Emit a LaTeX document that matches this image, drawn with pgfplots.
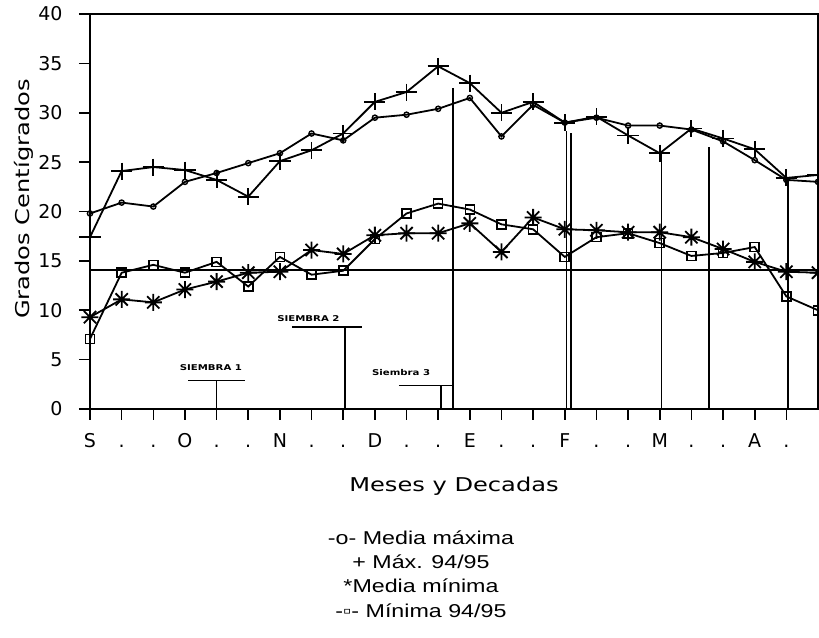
\documentclass[border=0pt]{standalone}
\usepackage{fontspec}
\setmainfont{Liberation Sans}
\newfontfamily\dotfont[FakeStretch=1.27]{DejaVu Sans}
\newfontfamily\tickfont{DejaVu Sans}
\newfontfamily\legfont[FakeStretch=1.25]{Liberation Sans}
\usepackage{pgfplots}
\pgfplotsset{compat=1.18}

\pgfdeclareplotmark{ast8}{%
  \pgfpathmoveto{\pgfqpoint{-\pgfplotmarksize}{0pt}}%
  \pgfpathlineto{\pgfqpoint{\pgfplotmarksize}{0pt}}%
  \pgfpathmoveto{\pgfqpoint{0pt}{-\pgfplotmarksize}}%
  \pgfpathlineto{\pgfqpoint{0pt}{\pgfplotmarksize}}%
  \pgfpathmoveto{\pgfqpoint{-0.72\pgfplotmarksize}{-0.72\pgfplotmarksize}}%
  \pgfpathlineto{\pgfqpoint{0.72\pgfplotmarksize}{0.72\pgfplotmarksize}}%
  \pgfpathmoveto{\pgfqpoint{-0.72\pgfplotmarksize}{0.72\pgfplotmarksize}}%
  \pgfpathlineto{\pgfqpoint{0.72\pgfplotmarksize}{-0.72\pgfplotmarksize}}%
  \pgfusepathqstroke}

\begin{document}
\begin{tikzpicture}
\useasboundingbox (-90pt,-228pt) rectangle (729pt,409pt);
\begin{axis}[
  at={(0pt,0pt)}, anchor=south west,
  scale only axis, width=728pt, height=395pt,
  xmin=0, xmax=23, ymin=0, ymax=40,
  axis line style={line width=1.6pt},
  xtick={0,...,22},
  xticklabels={S,.,.,O,.,.,N,.,.,D,.,.,E,.,.,F,.,.,M,.,.,A,.},
  ytick={0,5,...,40},
  yticklabels={0,5,10,15,20,25,30,35,40},
  tick align=outside, xtick pos=bottom, ytick pos=left,
  major tick length=11pt,
  tick style={line width=1.6pt, black},
  xticklabel style={font=\tickfont\fontsize{19}{22}\selectfont, anchor=base, yshift=-28pt},
  yticklabel style={font=\tickfont\fontsize{19}{22}\selectfont, anchor=east, xshift=-13pt},
  /pgf/number format/assume math mode=true,
  every axis plot/.append style={line width=1.8pt, black},
]
% horizontal reference line
\addplot[mark=none, line width=1.6pt] coordinates {(0,14.1) (23,14.1)};
% Siembra 1
\addplot[mark=none, line width=1.6pt] coordinates {(3.1,2.9) (4.9,2.9)};
\addplot[mark=none, line width=1.6pt] coordinates {(4,0) (4,2.9)};
% Siembra 2
\addplot[mark=none, line width=1.6pt] coordinates {(6.38,8.3) (8.59,8.3)};
\addplot[mark=none, line width=1.6pt] coordinates {(8.06,0) (8.06,8.3)};
% Siembra 3
\addplot[mark=none, line width=1.6pt] coordinates {(9.76,2.4) (11.45,2.4)};
\addplot[mark=none, line width=1.6pt] coordinates {(11.09,0) (11.09,2.4)};
\addplot[mark=none, line width=1.6pt] coordinates {(11.47,0) (11.47,32.5)};
% other vertical lines
\addplot[mark=none, line width=1.6pt] coordinates {(15.05,0) (15.05,28.2)};
\addplot[mark=none, line width=1.6pt] coordinates {(15.2,0) (15.2,27.9)};
\addplot[mark=none, line width=1.6pt] coordinates {(18.06,0) (18.06,25.9)};
\addplot[mark=none, line width=1.6pt] coordinates {(19.56,0) (19.56,26.5)};
\addplot[mark=none, line width=1.6pt] coordinates {(22.05,0) (22.05,23.2)};
% Media maxima
\addplot[mark=o, mark size=2.6pt, mark options={line width=1.4pt, fill=white}] coordinates {
(0,19.8)(1,20.9)(2,20.5)(3,23.0)(4,23.9)(5,24.9)(6,25.9)(7,27.9)(8,27.2)(9,29.5)(10,29.8)(11,30.4)
(12,31.5)(13,27.6)(14,30.8)(15,29.0)(16,29.5)(17,28.7)(18,28.7)(19,28.3)(20,27.1)(21,25.2)(22,23.2)(23,23.0)};
% Max 94/95
\addplot[mark=+, mark size=8.5pt, mark options={line width=1.8pt, xscale=1.25}] coordinates {
(0,17.4)(1,24.1)(2,24.5)(3,24.2)(4,23.2)(5,21.5)(6,25.1)(7,26.2)(8,27.9)(9,31.1)(10,32.1)(11,34.7)
(12,33.0)(13,30.0)(14,31.1)(15,29.0)(16,29.6)(17,27.7)(18,25.9)(19,28.4)(20,27.4)(21,26.3)(22,23.4)(23,23.7)};
% Media minima
\addplot[mark=ast8, mark size=8.5pt, mark options={line width=1.8pt}] coordinates {
(0,9.3)(1,11.1)(2,10.8)(3,12.1)(4,12.9)(5,13.8)(6,13.9)(7,16.1)(8,15.7)(9,17.6)(10,17.8)(11,17.8)
(12,18.8)(13,15.9)(14,19.4)(15,18.2)(16,18.1)(17,17.9)(18,17.9)(19,17.4)(20,16.2)(21,14.9)(22,13.9)(23,13.8)};
% Minima 94/95
\addplot[mark=square, mark size=4.5pt, mark options={line width=1.6pt, fill=white}] coordinates {
(0,7.1)(1,13.8)(2,14.6)(3,13.8)(4,14.9)(5,12.4)(6,15.4)(7,13.6)(8,14.0)(9,17.2)(10,19.8)(11,20.8)
(12,20.2)(13,18.7)(14,18.2)(15,15.4)(16,17.4)(17,17.8)(18,16.8)(19,15.5)(20,15.8)(21,16.4)(22,11.4)(23,10.0)};
% Siembra labels
\node[font=\dotfont\bfseries\fontsize{8}{9}\selectfont] at (axis cs:3.82,4.15) {SIEMBRA 1};
\node[font=\dotfont\bfseries\fontsize{8}{9}\selectfont] at (axis cs:6.9,9.2) {SIEMBRA 2};
\node[font=\dotfont\bfseries\fontsize{8}{9}\selectfont] at (axis cs:9.83,3.65) {Siembra 3};
\end{axis}
% axis labels
\node[rotate=90, font=\dotfont\fontsize{19}{22}\selectfont] at (-66.5pt,210pt) {Grados Centígrados};
\node[anchor=base, font=\dotfont\fontsize{19}{22}\selectfont] at (364pt,-82pt) {Meses y Decadas};
% legend text
\node[anchor=base, font=\legfont\fontsize{18.6}{22}\selectfont] at (331pt,-135pt) {-o- Media máxima};
\node[anchor=base, font=\legfont\fontsize{18.6}{22}\selectfont] at (331pt,-159pt) {+ Máx. 94/95};
\node[anchor=base, font=\legfont\fontsize{18.6}{22}\selectfont] at (331pt,-183pt) {*Media mínima};
\node[anchor=base, font=\legfont\fontsize{18.6}{22}\selectfont] at (331pt,-208pt) {-▫- Mínima 94/95};
\end{tikzpicture}
\end{document}
